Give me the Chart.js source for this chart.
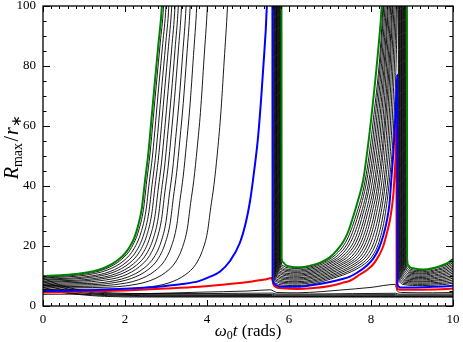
<!DOCTYPE html>
<html><head><meta charset="utf-8">
<script src="https://cdn.jsdelivr.net/npm/chart.js@4.4.0/dist/chart.umd.min.js"></script>
<style>html,body{margin:0;padding:0;background:#fff;}#wrap{width:463px;height:342px;}</style>
</head><body><div id="wrap"><canvas id="c" width="463" height="342"></canvas></div>
<script>
// ---------- data (t = ω0 t in rads, R = Rmax / r*) ----------
const xTickValues = [0, 2, 4, 6, 8, 10];
const yTickValues = [0, 20, 40, 60, 80, 100];

const greenCurve = [[0,10.0],[0.5,10.3],[0.9,10.8],[1.2,11.5],[1.47,12.6],[1.7,14.1],[1.88,15.9],[2.0,17.5],[2.12,19.8],[2.22,22.5],[2.29,25.3],[2.36,29],[2.41,32.5],[2.49,42],[2.57,51],[2.65,63],[2.73,75],[2.82,88],[2.90,100],[2.96,120],
 [5.815,120],[5.82,16],[5.85,14.6],[5.92,13.6],[6.05,13.1],[6.19,12.9],[6.4,13.1],[6.59,13.7],[6.8,14.7],[7.0,16.3],[7.15,18.3],[7.32,21.3],[7.45,25],[7.57,30],[7.7,36],[7.81,42],[7.95,56],[8.08,72],[8.18,86],[8.26,100],[8.31,120],
 [8.875,120],[8.88,16],[8.91,13.6],[8.95,12.9],[9.05,12.5],[9.28,12.2],[9.5,12.6],[9.68,13.3],[9.85,14.2],[10,15.6]];

const blueCurve = [[0,5.0],[0.6,5.1],[1.31,5.3],[2.12,5.8],[2.93,6.6],[3.4,7.3],[3.8,8.3],[4.05,9.6],[4.32,11.5],[4.56,15],[4.8,21],[4.95,28],[5.05,35],[5.15,45],[5.25,57],[5.37,79],[5.46,100],[5.5,120],
 [5.595,120],[5.60,9.0],[5.64,7.4],[5.70,6.8],[5.80,6.5],[6.0,6.4],[6.2,6.4],[6.5,6.8],[7.0,8.0],[7.3,9.0],[7.5,9.9],[7.65,11.0],[7.9,13.5],[8.06,15.9],[8.2,19.5],[8.30,23.5],[8.38,28],[8.45,34],[8.50,43],[8.55,52],[8.60,65],[8.64,77],
 [8.645,7.5],[8.67,6.5],[8.71,6.2],[9.0,6.2],[9.5,6.4],[9.93,6.7],[10,6.8]];

const redCurve = [[0,4.5],[1.0,4.8],[2.0,5.2],[3.0,5.8],[3.8,6.4],[4.6,7.4],[5.1,8.2],[5.4,8.8],[5.58,9.3],[5.62,7.2],[5.66,6.5],[5.72,6.1],[5.85,5.9],[6.19,5.7],[6.6,6.0],[7.0,6.7],[7.3,7.7],[7.5,8.5],[7.73,10.5],[7.9,12.0],[8.06,14],[8.2,17],[8.30,20],[8.40,25],[8.46,28.5],[8.51,33],[8.55,38],[8.58,45],[8.60,50],[8.62,62],
 [8.625,6.5],[8.66,5.6],[8.72,5.4],[9.0,5.4],[9.5,5.5],[10,5.8]];

// black curves diverging in the first interval
const black1 = [[0,9.7],[0.54,10.0],[0.94,10.5],[1.51,12.3],[1.92,15.6],[2.16,19.5],[2.33,25.0],[2.45,32.2],[2.53,41.7],[2.61,50.7],[2.69,62.7],[2.77,74.7],[2.86,87.7],[2.94,100],[3.0,120]];
const black2 = [[0,9.4],[0.6,9.7],[1.0,10.2],[1.57,12.0],[1.98,15.2],[2.22,19.1],[2.39,24.5],[2.51,31.7],[2.59,41.1],[2.67,50.0],[2.75,61.9],[2.83,74.2],[2.92,87.5],[3.00,100],[3.06,120]];
const black3 = [[0,9.0],[0.67,9.3],[1.07,9.8],[1.64,11.5],[2.05,14.8],[2.29,18.6],[2.46,24.0],[2.58,31.1],[2.66,40.4],[2.74,49.2],[2.82,60.9],[2.90,73.5],[2.99,87],[3.07,100],[3.13,120]];
const black4 = [[0,8.7],[0.74,9.0],[1.14,9.5],[1.71,11.2],[2.12,14.4],[2.36,18.2],[2.53,23.5],[2.65,30.5],[2.73,39.7],[2.81,48.5],[2.89,60.1],[2.97,72.5],[3.06,86.5],[3.14,100],[3.20,120]];
const black5 = [[0,8.3],[0.82,8.6],[1.22,9.1],[1.79,10.8],[2.20,14.0],[2.44,17.7],[2.61,23.0],[2.73,29.9],[2.81,39.0],[2.89,47.7],[2.97,59.2],[3.05,71.5],[3.14,86],[3.22,100],[3.28,120]];
const black6 = [[0,8.0],[0.9,8.3],[1.3,8.8],[1.87,10.5],[2.28,13.6],[2.52,17.3],[2.69,22.5],[2.81,29.4],[2.89,38.4],[2.97,47.0],[3.05,58.4],[3.13,70.5],[3.22,85.5],[3.30,100],[3.36,120]];
const black7 = [[0,7.6],[0.98,7.9],[1.38,8.4],[1.95,10.0],[2.36,13.2],[2.60,16.8],[2.77,22.0],[2.89,28.8],[2.97,37.7],[3.05,46.1],[3.13,57.4],[3.21,69.5],[3.30,85],[3.38,100],[3.44,120]];
const black8 = [[0,7.2],[1.09,7.5],[1.49,7.9],[2.06,9.6],[2.47,12.7],[2.71,16.3],[2.88,21.4],[3.00,28.1],[3.08,37.0],[3.16,45.3],[3.24,56.5],[3.32,68.5],[3.41,84.5],[3.49,100],[3.55,120]];
const black9 = [[0,6.8],[1.19,7.1],[1.59,7.5],[2.16,9.2],[2.57,12.2],[2.81,15.8],[2.98,20.9],[3.10,27.5],[3.18,36.2],[3.26,44.5],[3.34,55.6],[3.42,67.5],[3.51,84],[3.59,100],[3.65,120]];
const black10 = [[0,6.4],[1.35,6.7],[1.75,7.1],[2.32,8.7],[2.73,11.7],[2.97,15.2],[3.14,20.2],[3.26,26.7],[3.34,35.2],[3.42,43.3],[3.50,54.1],[3.58,66],[3.67,83.5],[3.75,100],[3.81,120]];
const black11 = [[0,6.0],[1.61,6.3],[2.01,6.7],[2.58,8.3],[2.99,11.2],[3.23,14.6],[3.40,19.5],[3.52,25.8],[3.60,34.2],[3.68,42.1],[3.76,52.6],[3.84,64.5],[3.93,83],[4.01,100],[4.07,120]];
const black12 = [[0,5.5],[2.1,5.8],[2.5,6.2],[3.07,7.7],[3.48,10.5],[3.72,13.8],[3.89,18.5],[4.01,24.6],[4.09,32.7],[4.17,40.4],[4.25,50.6],[4.33,63],[4.42,82],[4.50,100],[4.56,120]];

// black curves returning after ~5.7 and ~8.8
const blackB1 = [[5.806,120],[5.81,15.5],[5.836,13.5],[5.926,12.9],[6.2,12.5],[6.47,12.9],[6.74,14],[7.13,17],[7.41,22],[7.63,30],[7.86,42],[8.04,60],[8.29,100],[8.34,120],[8.865,120],[8.869,15.0],[8.895,13.0],[8.965,12.2],[9.25,11.8],[9.65,12.9],[9.85,13.7],[10,15.0]];
const blackB2 = [[5.792,120],[5.796,15],[5.822,13],[5.912,12.4],[6.2,12.0],[6.51,12.6],[6.82,14],[7.20,17],[7.47,22],[7.68,30],[7.90,42],[8.08,60],[8.31,100],[8.36,120],[8.849,120],[8.853,14.6],[8.879,12.6],[8.949,11.8],[9.25,11.4],[9.65,12.4],[9.85,13.2],[10,14.5]];
const blackB3 = [[5.778,120],[5.782,14.6],[5.808,12.5],[5.898,12.0],[6.2,11.6],[6.55,12.3],[6.91,14],[7.27,17],[7.53,22],[7.74,30],[7.95,42],[8.12,60],[8.34,100],[8.39,120],[8.834,120],[8.838,14.2],[8.864,12.2],[8.934,11.4],[9.25,11.0],[9.65,12.0],[9.85,12.7],[10,13.9]];
const blackB4 = [[5.764,120],[5.768,14.2],[5.794,12.1],[5.884,11.6],[6.2,11.2],[6.6,12.0],[6.99,14],[7.34,17],[7.60,22],[7.79,30],[7.99,42],[8.16,60],[8.37,100],[8.42,120],[8.819,120],[8.823,13.9],[8.849,11.9],[8.919,11.1],[9.25,10.7],[9.65,11.5],[9.85,12.2],[10,13.3]];
const blackB5 = [[5.75,120],[5.754,13.7],[5.78,11.6],[5.87,11.1],[6.2,10.7],[6.64,11.7],[7.08,14],[7.41,17],[7.66,22],[7.85,30],[8.04,42],[8.20,60],[8.40,100],[8.45,120],[8.803,120],[8.807,13.5],[8.833,11.5],[8.903,10.7],[9.25,10.3],[9.65,11.1],[9.85,11.7],[10,12.7]];
const blackB6 = [[5.736,120],[5.74,13.3],[5.766,11.2],[5.856,10.7],[6.2,10.3],[6.68,11.4],[7.16,14],[7.48,17],[7.72,22],[7.90,30],[8.09,42],[8.24,60],[8.42,100],[8.47,120],[8.788,120],[8.792,13.1],[8.818,11.1],[8.888,10.3],[9.25,9.9],[9.65,10.6],[9.85,11.2],[10,12.2]];
const blackB7 = [[5.722,120],[5.726,12.9],[5.752,10.8],[5.842,10.3],[6.2,9.9],[6.72,11.1],[7.25,14],[7.56,17],[7.78,22],[7.96,30],[8.13,42],[8.28,60],[8.45,100],[8.50,120],[8.773,120],[8.777,12.7],[8.803,10.7],[8.873,9.9],[9.25,9.5],[9.65,10.2],[9.85,10.7],[10,11.6]];
const blackB8 = [[5.708,120],[5.712,12.4],[5.738,10.3],[5.828,9.8],[6.2,9.4],[6.77,10.8],[7.33,14],[7.63,17],[7.84,22],[8.01,30],[8.18,42],[8.32,60],[8.48,100],[8.53,120],[8.757,120],[8.761,12.3],[8.787,10.3],[8.857,9.5],[9.25,9.1],[9.65,9.7],[9.85,10.2],[10,11.0]];
const blackB9 = [[5.694,120],[5.698,12],[5.724,9.9],[5.814,9.4],[6.2,9.0],[6.81,10.5],[7.42,14],[7.70,17],[7.90,22],[8.07,30],[8.22,42],[8.35,60],[8.51,100],[8.56,120],[8.742,120],[8.746,11.9],[8.772,9.9],[8.842,9.1],[9.25,8.7],[9.65,9.3],[9.85,9.7],[10,10.4]];
const blackB10 = [[5.68,120],[5.684,11.6],[5.71,9.5],[5.80,9.0],[6.2,8.6],[6.85,10.2],[7.50,14],[7.77,17],[7.96,22],[8.12,30],[8.27,42],[8.39,60],[8.53,100],[8.58,120],[8.727,120],[8.731,11.5],[8.757,9.5],[8.827,8.7],[9.25,8.3],[9.65,8.8],[9.85,9.2],[10,9.9]];
const blackB11 = [[5.666,120],[5.67,11.1],[5.696,9.0],[5.786,8.5],[6.2,8.1],[6.9,9.9],[7.59,14],[7.84,17],[8.02,22],[8.18,30],[8.32,42],[8.43,60],[8.56,100],[8.61,120],[8.711,120],[8.715,11.2],[8.741,9.2],[8.811,8.4],[9.25,8.0],[9.65,8.4],[9.85,8.7],[10,9.3]];
const blackB12 = [[5.652,120],[5.656,10.7],[5.682,8.6],[5.772,8.1],[6.2,7.7],[6.94,9.6],[7.67,14],[7.91,17],[8.09,22],[8.23,30],[8.36,42],[8.47,60],[8.59,100],[8.64,120],[8.696,120],[8.70,10.8],[8.726,8.8],[8.796,8.0],[9.25,7.6],[9.65,7.9],[9.85,8.2],[10,8.7]];
const blackB13 = [[5.638,120],[5.642,10.3],[5.668,8.2],[5.758,7.7],[6.2,7.3],[6.98,9.3],[7.76,14],[7.98,17],[8.15,22],[8.29,30],[8.41,42],[8.51,60],[8.62,100],[8.66,120],[8.681,120],[8.685,10.4],[8.711,8.4],[8.781,7.6],[9.25,7.2],[9.65,7.5],[9.85,7.7],[10,8.1]];
const blackB14 = [[5.624,120],[5.628,9.8],[5.654,7.7],[5.744,7.2],[6.2,6.8],[7.02,9.0],[7.84,14],[8.05,17],[8.21,22],[8.34,30],[8.45,42],[8.55,60],[8.64,100],[8.655,120],[8.665,120],[8.669,10.0],[8.695,8.0],[8.765,7.2],[9.25,6.8],[9.65,7.05],[9.85,7.25],[10,7.6]];

// low-lying black curves
const lowRise = [[0,3.9],[1.2,4.0],[2.4,4.1],[3.8,4.6],[5.0,5.0],[5.55,5.4],[5.62,5.0],[5.7,4.5],[6.2,4.4],[6.8,4.8],[7.24,5.3],[8.0,6.2],[8.59,7.2],[8.64,5.0],[8.75,4.5],[9.5,4.4],[10,4.5]];
const lowA = [[0,9.3],[0.25,7.8],[0.5,6.6],[0.8,5.6],[1.2,4.8],[1.7,4.35],[2.5,4.15],[4,4.15],[5.6,4.3],[5.68,4.0],[6.5,4.0],[8.6,4.25],[8.68,3.95],[10,4.0]];
const lowB = [[0,8.2],[0.3,6.8],[0.6,5.7],[1.0,4.8],[1.5,4.1],[2.2,3.8],[4,3.75],[5.6,3.85],[5.68,3.65],[8.6,3.8],[8.68,3.6],[10,3.65]];
const lowC = [[0,7.1],[0.3,6.0],[0.7,4.9],[1.2,4.1],[1.8,3.6],[3,3.45],[5.6,3.5],[5.68,3.35],[8.6,3.45],[8.68,3.3],[10,3.35]];
const lowD = [[0,6.2],[0.3,5.2],[0.7,4.3],[1.2,3.7],[2.0,3.3],[3,3.2],[10,3.15]];
const lowE = [[0,5.6],[0.4,4.6],[0.9,3.8],[1.5,3.2],[2.5,3.0],[10,2.95]];

// ---------- chart ----------
const SERIF = '"Liberation Serif", "Times New Roman", serif';
const toXY = pts => pts.map(p => ({x: p[0], y: p[1]}));
const mk = (pts, color, w) => ({data: toXY(pts), borderColor: color, borderWidth: w, pointRadius: 0, fill: false, cubicInterpolationMode: 'monotone'});

const blackSets = [black1,black2,black3,black4,black5,black6,black7,black8,black9,black10,black11,black12,
  blackB1,blackB2,blackB3,blackB4,blackB5,blackB6,blackB7,blackB8,blackB9,blackB10,blackB11,blackB12,blackB13,blackB14,
  lowRise,lowA,lowB,lowC,lowD,lowE];

const datasets = [
  mk(greenCurve, '#008000', 2),
  mk(blueCurve, '#0000ff', 2),
  mk(redCurve, '#ff0000', 2),
  ...blackSets.map(s => mk(s, '#000000', 0.9))
];

function drawRuns(ctx, runs, x0, base) {
  let x = x0;
  for (const r of runs) { ctx.font = r.font; ctx.fillText(r.text, x, base + (r.dy || 0)); x += ctx.measureText(r.text).width + (r.gap || 0); }
}
function runsWidth(ctx, runs) {
  let w = 0; for (const r of runs) { ctx.font = r.font; w += ctx.measureText(r.text).width + (r.gap || 0); } return w;
}

const decor = {
  id: 'decor',
  afterDraw(chart) {
    const {ctx, chartArea: a, scales: {x, y}} = chart;
    ctx.save();
    ctx.strokeStyle = '#000'; ctx.lineWidth = 1;
    ctx.beginPath();
    for (let i = 0; i <= 50; i++) {
      const px = Math.round(x.getPixelForValue(i * 0.2)) + 0.5;
      const L = (i % 10 === 0) ? 6 : 3;
      ctx.moveTo(px, a.bottom); ctx.lineTo(px, a.bottom - L);
      ctx.moveTo(px, a.top); ctx.lineTo(px, a.top + L);
    }
    for (let i = 0; i <= 20; i++) {
      const py = Math.round(y.getPixelForValue(i * 5)) + 0.5;
      const L = (i % 4 === 0) ? 7 : 3.5;
      ctx.moveTo(a.left, py); ctx.lineTo(a.left + L, py);
      ctx.moveTo(a.right, py); ctx.lineTo(a.right - L, py);
    }
    ctx.stroke();
    ctx.lineWidth = 1.3;
    ctx.strokeRect(a.left, a.top, a.right - a.left, a.bottom - a.top);

    // axis titles
    ctx.fillStyle = '#000'; ctx.textBaseline = 'alphabetic'; ctx.textAlign = 'left';
    const xr = [
      {text: 'ω', font: 'italic 17px ' + SERIF},
      {text: '0', font: '12px ' + SERIF, dy: 3},
      {text: 't', font: 'italic 17px ' + SERIF},
      {text: ' (rads)', font: '17px ' + SERIF}
    ];
    const cx = (a.left + a.right) / 2;
    drawRuns(ctx, xr, cx - runsWidth(ctx, xr) / 2, 336);

    const yr = [
      {text: 'R', font: 'italic 20px ' + SERIF},
      {text: 'max', font: '14px ' + SERIF, dy: 4, gap: 1.5},
      {text: '/', font: '20px ' + SERIF, gap: 1},
      {text: 'r', font: 'italic 20px ' + SERIF, gap: 0.5},
      {text: '∗', font: '14px ' + SERIF, dy: 3}
    ];
    ctx.translate(0, 147);
    ctx.rotate(-Math.PI / 2);
    drawRuns(ctx, yr, -runsWidth(ctx, yr) / 2, 18);
    ctx.restore();
  }
};

new Chart(document.getElementById('c'), {
  type: 'line',
  data: {datasets},
  options: {
    responsive: false, animation: false, devicePixelRatio: 1,
    layout: {padding: {top: 6, right: 10, left: 0, bottom: 0}},
    plugins: {legend: {display: false}, tooltip: {enabled: false}},
    elements: {point: {radius: 0}, line: {borderJoinStyle: 'round'}},
    scales: {
      x: {
        type: 'linear', min: 0, max: 10,
        afterBuildTicks: s => { s.ticks = xTickValues.map(v => ({value: v})); },
        afterFit: s => { s.height = 36; s.paddingLeft = 0; s.paddingRight = 0; },
        grid: {display: false, drawTicks: false},
        border: {display: false},
        ticks: {color: '#000', font: {family: SERIF, size: 13}, padding: 6, maxRotation: 0, autoSkip: false}
      },
      y: {
        type: 'linear', min: 0, max: 100,
        afterBuildTicks: s => { s.ticks = yTickValues.map(v => ({value: v})); },
        afterFit: s => { s.width = 43; s.paddingTop = 0; s.paddingBottom = 0; },
        grid: {display: false, drawTicks: false},
        border: {display: false},
        ticks: {color: '#000', font: {family: SERIF, size: 13}, padding: 7}
      }
    }
  },
  plugins: [decor]
});
</script>
</body></html>
